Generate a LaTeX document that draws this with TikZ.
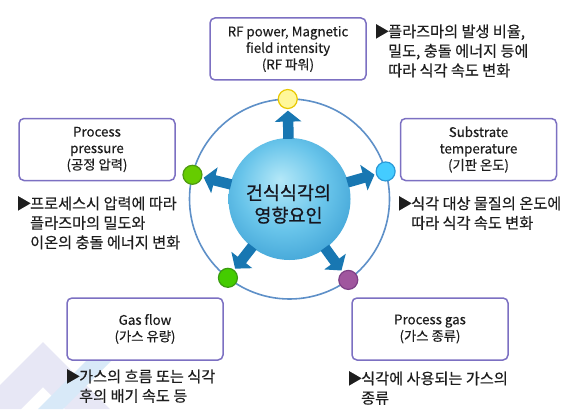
\documentclass[tikz,border=0pt]{standalone}
\usepackage{fontspec}
\setmainfont{Noto Sans CJK KR}[FakeBold=0.35]
\newfontfamily\corefont{Noto Sans CJK KR}[FakeBold=0.9]
\usepackage{xcolor}
\usepackage{tikz}
\usetikzlibrary{arrows.meta, calc}

\definecolor{boxline}{HTML}{7C70C2}
\definecolor{ringblue}{HTML}{5E90C8}
\definecolor{arrowblue}{HTML}{1877B2}
\definecolor{txt}{HTML}{1E1E1E}
\definecolor{coretext}{HTML}{16161F}
\definecolor{coreA}{HTML}{B4E8F8}
\definecolor{coreB}{HTML}{68C4EA}
\definecolor{coreC}{HTML}{2189C6}
\definecolor{coreD}{HTML}{2A97D2}
\definecolor{wmlav}{HTML}{E7E7F5}
\definecolor{wmblue}{HTML}{D8E9F8}
\definecolor{yellowline}{HTML}{E8C800}
\definecolor{yellowfill}{HTML}{FFF79A}
\definecolor{limeline}{HTML}{4E9A10}
\definecolor{limefill}{HTML}{66CC00}
\definecolor{skyline}{HTML}{2A9AD8}
\definecolor{skyfill}{HTML}{44CCFF}
\definecolor{greenline}{HTML}{3A9A10}
\definecolor{greenfill}{HTML}{44CC00}
\definecolor{plumline}{HTML}{7E3F86}
\definecolor{plumfill}{HTML}{A0569E}
\pgfdeclareradialshading{coreshade}{\pgfpoint{-4bp}{8bp}}{color(0bp)=(coreA); color(18bp)=(coreB); color(42bp)=(coreC); color(50bp)=(coreD)}

\newcommand{\bul}{\makebox[14pt][l]{▶}}
\newcommand{\ind}{\hspace*{14pt}}

\begin{document}
\begin{tikzpicture}[x=1pt,y=-1pt]
	\tikzstyle{factor}=[rectangle,rounded corners=5pt,draw=boxline,line width=1.5pt,fill=white,minimum width=156pt,minimum height=62pt,align=center,text=txt,font=\fontsize{13.3}{16.5}\selectfont]
	\tikzstyle{note}=[anchor=north west,inner sep=0pt,align=left,text=txt,font=\fontsize{15.2}{19.5}\selectfont]
	\tikzstyle{knob}=[circle,line width=1.2pt,minimum size=19pt,inner sep=0pt]
	\tikzstyle{core}=[circle,minimum size=122pt,inner sep=0pt,shading=coreshade]
	\tikzstyle{pusharrow}=[line width=10.5pt,draw=arrowblue,-{Triangle[width=26pt,length=11pt]},shorten <=-1pt,shorten >=1.5pt]
	\useasboundingbox (0,0) rectangle (580,409);
	\fill[white] (0,0) rectangle (580,409);
	\fill[wmlav] (0,385) -- (43,342) -- (110,409) -- (65,409) -- (43,387) -- (21,409) -- (0,409) -- cycle;
	\fill[wmblue] (38,409) -- (125,322) -- (150,322) -- (63,409) -- cycle;
	\coordinate (o) at (289.5,199);
	\draw[ringblue,line width=1.6pt] (o) circle (100pt);
	\node[core](c) at (o) {};
	\node[font=\corefont\fontsize{18.5}{22.5}\selectfont,align=center,text=coretext](ct) at (288.5,204) {건식식각의\\영향요인};
	\node[knob,draw=yellowline,fill=yellowfill](d1) at ($(o)+(-91:100)$) {};
	\node[knob,draw=limeline,fill=limefill](d2) at ($(o)+(194:100)$) {};
	\node[knob,draw=skyline,fill=skyfill](d3) at ($(o)+(-16:100)$) {};
	\node[knob,draw=greenline,fill=greenfill](d4) at ($(o)+(128:100)$) {};
	\node[knob,draw=plumline,fill=plumfill](d5) at ($(o)+(54:100)$) {};
	\draw[pusharrow](c) -- (d1);
	\draw[pusharrow](c) -- (d2);
	\draw[pusharrow](c) -- (d3);
	\draw[pusharrow](c) -- (d4);
	\draw[pusharrow](c) -- (d5);
	\node[factor](f1) at (288,49) {RF power, Magnetic\\field intensity\\(RF 파워)};
	\node[factor](f2) at (97,149.5) {Process\\pressure\\(공정 압력)};
	\node[factor](f3) at (478.5,149.5) {Substrate\\temperature\\(기판 온도)};
	\node[factor](f4) at (145,329) {Gas flow\\(가스 유량)};
	\node[factor](f5) at (430,329) {Process gas\\(가스 종류)};
	\node[note](n1) at (374,24) {\bul 플라즈마의 발생 비율,\\ \ind 밀도, 충돌 에너지 등에\\ \ind 따라 식각 속도 변화};
	\node[note](n2) at (16,196) {\bul 프로세스시 압력에 따라\\ \ind 플라즈마의 밀도와\\ \ind 이온의 충돌 에너지 변화};
	\node[note](n3) at (397,196) {\bul 식각 대상 물질의 온도에\\ \ind 따라 식각 속도 변화};
	\node[note](n4) at (65,369) {\bul 가스의 흐름 또는 식각\\ \ind 후의 배기 속도 등};
	\node[note](n5) at (347,371) {\bul 식각에 사용되는 가스의\\ \ind 종류};
\end{tikzpicture}
\end{document}
